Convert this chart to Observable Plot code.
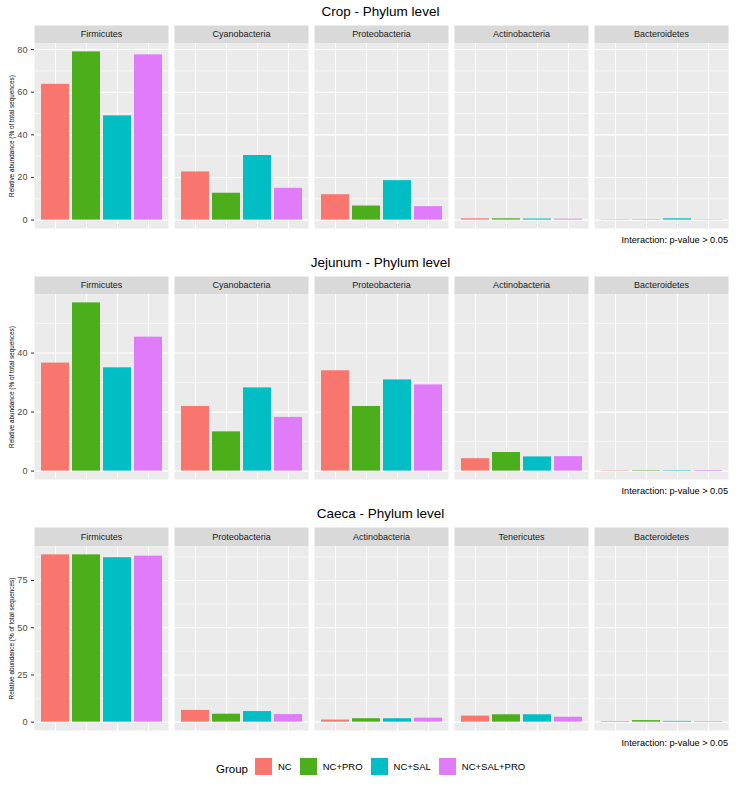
<!DOCTYPE html>
<html><head><meta charset="utf-8">
<script src="https://cdn.jsdelivr.net/npm/d3@7"></script>
<script src="https://cdn.jsdelivr.net/npm/@observablehq/plot@0.6"></script>
<style>
body{margin:0;background:#fff;font-family:"Liberation Sans",Arial,Helvetica,sans-serif;}
#root{position:relative;width:741px;height:787px;overflow:hidden;}
.title{position:absolute;left:33px;width:695px;text-align:center;font-size:13.5px;color:#000;line-height:18px;}
.cap{position:absolute;right:13px;font-size:9.2px;color:#000;line-height:12px;}
.sec{position:absolute;left:0;}
.sec svg{display:block;}
#legend{position:absolute;left:216px;top:752px;height:33px;display:flex;align-items:center;}
#legend .glabel{font-size:11.5px;color:#000;margin-right:7px;}
.lg-swatch{margin-right:8px !important;}
.lg-swatch>svg{margin-right:6px !important;}
</style></head><body><div id="root"></div>
<script>
const groups = ["NC", "NC+PRO", "NC+SAL", "NC+SAL+PRO"];
const colors = ["#F8766D", "#4BAE1A", "#00BEC4", "#E07BFA"];

const cropPhyla = ["Firmicutes", "Cyanobacteria", "Proteobacteria", "Actinobacteria", "Bacteroidetes"];
const cropValues = [
  [63.7, 78.9, 48.9, 77.5],
  [22.6, 12.6, 30.3, 14.9],
  [11.9, 6.6, 18.5, 6.3],
  [0.6, 0.6, 0.5, 0.4],
  [0.15, 0.15, 0.6, 0.15]
];
const cropTicks = [0, 20, 40, 60, 80];
const cropMinor = [10, 30, 50, 70];

const jejPhyla = ["Firmicutes", "Cyanobacteria", "Proteobacteria", "Actinobacteria", "Bacteroidetes"];
const jejValues = [
  [36.6, 57.0, 35.0, 45.4],
  [21.9, 13.3, 28.2, 18.2],
  [34.0, 21.9, 30.9, 29.2],
  [4.2, 6.3, 4.8, 4.9],
  [0.1, 0.15, 0.15, 0.2]
];
const jejTicks = [0, 20, 40];
const jejMinor = [10, 30, 50];

const caecaPhyla = ["Firmicutes", "Proteobacteria", "Actinobacteria", "Tenericutes", "Bacteroidetes"];
const caecaValues = [
  [88.6, 88.6, 87.1, 87.9],
  [6.2, 4.2, 5.6, 4.0],
  [1.1, 1.8, 1.8, 2.1],
  [3.2, 3.9, 3.9, 2.6],
  [0.3, 0.8, 0.4, 0.3]
];
const caecaTicks = [0, 25, 50, 75];
const caecaMinor = [12.5, 37.5, 62.5, 87.5];

const captionText = "Interaction: p-value > 0.05";
const font = '"Liberation Sans", Arial, Helvetica, sans-serif';
const root = document.getElementById("root");

function addDiv(cls, top, text) {
  const d = document.createElement("div");
  d.className = cls;
  d.style.top = top + "px";
  if (text != null) d.textContent = text;
  root.appendChild(d);
  return d;
}

function section(title, phyla, values, ticks, minor, titleTop, svgTop, mt, ph, capTop) {
  addDiv("title", titleTop, title);
  const data = [];
  phyla.forEach((p, i) => groups.forEach((g, j) => data.push({phylum: p, group: g, value: values[i][j]})));
  const max = d3.max(data, d => d.value);
  const mb = 6;
  const plot = Plot.plot({
    width: 741,
    height: mt + ph + mb,
    marginTop: mt,
    marginBottom: mb,
    marginLeft: 33,
    marginRight: 13,
    style: {fontFamily: font, background: "transparent", overflow: "visible"},
    fx: {domain: phyla, paddingInner: 0.043, paddingOuter: 0, axis: null, label: null},
    x: {domain: groups, paddingInner: 0.1, paddingOuter: 0.15, axis: null, label: null},
    y: {domain: [-0.05 * max, 1.05 * max], axis: null, label: null},
    color: {domain: groups, range: colors},
    marks: [
      Plot.frame({fill: "#D9D9D9", stroke: null, insetTop: -mt, insetBottom: ph}),
      Plot.frame({fill: "#EBEBEB", stroke: null}),
      Plot.ruleY(minor, {stroke: "#FFFFFF", strokeWidth: 0.55}),
      Plot.ruleY(ticks, {stroke: "#FFFFFF", strokeWidth: 1.1}),
      Plot.gridX({stroke: "#FFFFFF", strokeOpacity: 1, strokeWidth: 1.1}),
      Plot.barY(data, {fx: "phylum", x: "group", y1: 0, y2: "value", fill: "group"}),
      Plot.axisY({ticks: ticks, tickSize: 3, tickPadding: 4, fontSize: 9.2, stroke: "#333333", fill: "#4D4D4D", label: null}),
      Plot.axisY({ticks: [], tickSize: 0, label: "Relative abundance (% of total sequences)", labelAnchor: "center", labelArrow: "none", labelOffset: 25, fontSize: 6.4, fill: "#000"}),
      Plot.text(phyla, {fx: d => d, text: d => d, frameAnchor: "top", dy: -mt / 2, lineAnchor: "middle", fontSize: 9, fill: "#1A1A1A"})
    ]
  });
  const s = addDiv("sec", svgTop);
  s.appendChild(plot);
  addDiv("cap", capTop, captionText);
}

section("Crop - Phylum level", cropPhyla, cropValues, cropTicks, cropMinor, 3, 25, 18, 185, 234);
section("Jejunum - Phylum level", jejPhyla, jejValues, jejTicks, jejMinor, 254, 276, 18, 185, 485);
section("Caeca - Phylum level", caecaPhyla, caecaValues, caecaTicks, caecaMinor, 505, 527, 19, 184, 737);

const leg = addDiv("", 752);
leg.id = "legend";
const gl = document.createElement("span");
gl.className = "glabel";
gl.textContent = "Group";
leg.appendChild(gl);
const sw = Plot.legend({
  color: {domain: groups, range: colors},
  legend: "swatches",
  swatchSize: 17,
  className: "lg",
  style: {fontSize: "9.5px", fontFamily: font, color: "#000", marginLeft: "0px", minHeight: "17px"}
});
leg.appendChild(sw);
</script>
</body></html>
